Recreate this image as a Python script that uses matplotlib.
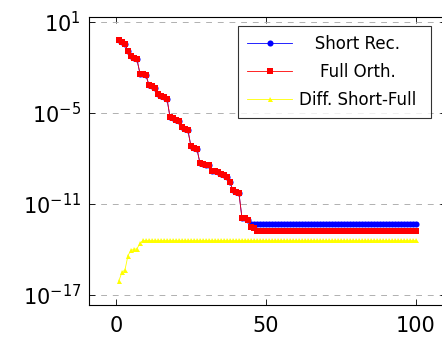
import matplotlib
matplotlib.use("Agg")
import matplotlib.pyplot as plt
import numpy as np

# iteration index
iterations = list(range(1, 101))

# log10 of residuals
full_orth_log = [
    -0.20, -0.35, -0.47, -0.93, -1.27, -1.37, -1.47, -2.40, -2.45, -2.52,
    -3.15, -3.25, -3.35, -3.75, -3.85, -3.95, -4.05, -5.25, -5.35, -5.45,
    -5.55, -5.95, -6.05, -6.15, -7.20, -7.30, -7.37, -8.30, -8.35, -8.40,
    -8.45, -8.80, -8.85, -8.90, -9.00, -9.10, -9.20, -9.55, -10.10, -10.20,
    -10.27, -11.90, -11.95, -12.05, -12.50, -12.60, -12.78, -12.78, -12.78, -12.78,
    -12.78, -12.78, -12.78, -12.78, -12.78, -12.78, -12.78, -12.78, -12.78, -12.78,
    -12.78, -12.78, -12.78, -12.78, -12.78, -12.78, -12.78, -12.78, -12.78, -12.78,
    -12.78, -12.78, -12.78, -12.78, -12.78, -12.78, -12.78, -12.78, -12.78, -12.78,
    -12.78, -12.78, -12.78, -12.78, -12.78, -12.78, -12.78, -12.78, -12.78, -12.78,
    -12.78, -12.78, -12.78, -12.78, -12.78, -12.78, -12.78, -12.78, -12.78, -12.78,
]

short_rec_log = [
    -0.20, -0.35, -0.47, -0.93, -1.27, -1.37, -1.47, -2.40, -2.45, -2.52,
    -3.15, -3.25, -3.35, -3.75, -3.85, -3.95, -4.05, -5.25, -5.35, -5.45,
    -5.55, -5.95, -6.05, -6.15, -7.20, -7.30, -7.37, -8.30, -8.35, -8.40,
    -8.45, -8.80, -8.85, -8.90, -9.00, -9.10, -9.20, -9.55, -10.10, -10.20,
    -10.27, -11.90, -11.95, -12.05, -12.30, -12.35, -12.35, -12.35, -12.35, -12.35,
    -12.35, -12.35, -12.35, -12.35, -12.35, -12.35, -12.35, -12.35, -12.35, -12.35,
    -12.35, -12.35, -12.35, -12.35, -12.35, -12.35, -12.35, -12.35, -12.35, -12.35,
    -12.35, -12.35, -12.35, -12.35, -12.35, -12.35, -12.35, -12.35, -12.35, -12.35,
    -12.35, -12.35, -12.35, -12.35, -12.35, -12.35, -12.35, -12.35, -12.35, -12.35,
    -12.35, -12.35, -12.35, -12.35, -12.35, -12.35, -12.35, -12.35, -12.35, -12.35,
]

diff_log = [
    -16.05, -15.50, -15.35, -14.40, -14.05, -14.00, -13.95, -13.60, -13.40, -13.40,
    -13.40, -13.40, -13.40, -13.40, -13.40, -13.40, -13.40, -13.40, -13.40, -13.40,
    -13.40, -13.40, -13.40, -13.40, -13.40, -13.40, -13.40, -13.40, -13.40, -13.40,
    -13.40, -13.40, -13.40, -13.40, -13.40, -13.40, -13.40, -13.40, -13.40, -13.40,
    -13.40, -13.40, -13.40, -13.40, -13.40, -13.40, -13.40, -13.40, -13.40, -13.40,
    -13.40, -13.40, -13.40, -13.40, -13.40, -13.40, -13.40, -13.40, -13.40, -13.40,
    -13.40, -13.40, -13.40, -13.40, -13.40, -13.40, -13.40, -13.40, -13.40, -13.40,
    -13.40, -13.40, -13.40, -13.40, -13.40, -13.40, -13.40, -13.40, -13.40, -13.40,
    -13.40, -13.40, -13.40, -13.40, -13.40, -13.40, -13.40, -13.40, -13.40, -13.40,
    -13.40, -13.40, -13.40, -13.40, -13.40, -13.40, -13.40, -13.40, -13.40, -13.40,
]

labels = ["Short Rec.", "Full Orth.", "Diff. Short-Full"]
x_ticks = [0, 50, 100]
y_ticks = [1e1, 1e-5, 1e-11, 1e-17]
y_tick_labels = [r"$10^{1}$", r"$10^{-5}$", r"$10^{-11}$", r"$10^{-17}$"]

short_rec = 10.0 ** np.array(short_rec_log)
full_orth = 10.0 ** np.array(full_orth_log)
diff = 10.0 ** np.array(diff_log)

plt.rcParams["font.family"] = ["DejaVu Sans"]
plt.rcParams["mathtext.fontset"] = "dejavusans"

fig = plt.figure(figsize=(4.42, 3.37), dpi=100)
ax = fig.add_axes([0.202, 0.095, 0.806, 0.8546])

ax.plot(iterations, short_rec, color="#0000ff", lw=0.6, marker="o",
        markersize=4.4, markeredgewidth=0, label="   " + labels[0])
ax.plot(iterations, full_orth, color="#ff0000", lw=0.6, marker="s",
        markersize=4.2, markeredgewidth=0, label="    " + labels[1])
ax.plot(iterations, diff, color="#ffff00", lw=0.6, marker="^",
        markersize=3.6, markeredgewidth=0, label=labels[2] + " ")

ax.set_yscale("log")
ax.set_xlim(-8.9, 109.9)
ax.set_ylim(10 ** -17.66, 10 ** 1.33)

ax.set_xticks(x_ticks)
ax.set_xticklabels([str(t) for t in x_ticks])
ax.set_yticks(y_ticks)
ax.set_yticklabels(y_tick_labels)
ax.minorticks_off()

ax.tick_params(axis="both", which="major", direction="in", length=4,
               width=0.6, labelsize=15, top=True, right=True, pad=6,
               colors="black")
ax.tick_params(axis="x", pad=8)
ax.yaxis.grid(True, which="major", linestyle=(0, (6, 6)), color="#b0b0b0",
              linewidth=0.7)
ax.set_axisbelow(True)
for sp in ax.spines.values():
    sp.set_linewidth(0.8)
    sp.set_color("black")

leg = ax.legend(loc="upper left", bbox_to_anchor=(0.418, 0.969),
                fontsize=12, frameon=True, fancybox=False, handlelength=2.7,
                labelspacing=0.6, borderpad=0.55, handletextpad=0.42,
                borderaxespad=0)
leg.get_frame().set_edgecolor("black")
leg.get_frame().set_linewidth(0.8)

fig.savefig("out.png", dpi=100)
